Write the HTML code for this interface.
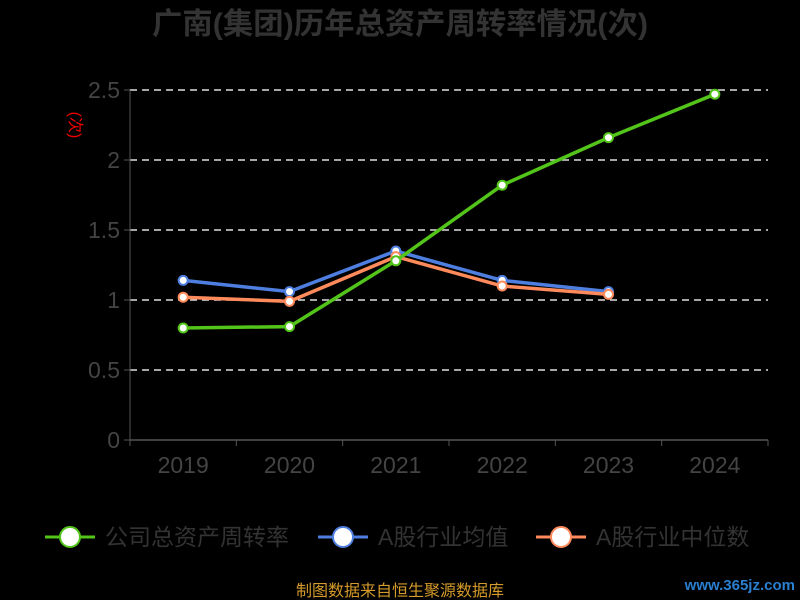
<!DOCTYPE html>
<html><head><meta charset="utf-8"><style>
body{margin:0;background:#000;}
svg{display:block;font-family:"Liberation Sans","Noto Sans CJK SC",sans-serif;}
</style></head><body>
<svg id="chart" width="800" height="600">
<text x="400" y="34" text-anchor="middle" font-size="30" font-weight="bold" fill="#333" textLength="496" lengthAdjust="spacingAndGlyphs">广南(集团)历年总资产周转率情况(次)</text>
<text x="70" y="125" text-anchor="middle" font-size="16" fill="#e00" transform="rotate(90 70 125)">(次)</text>
<g id="grid"></g><g id="axes"></g><g id="series"></g>
<g>
<g><line x1="45" y1="537" x2="95" y2="537" stroke="#52c41a" stroke-width="3"/><circle cx="70" cy="537" r="10" fill="#fff" stroke="#52c41a" stroke-width="2"/><text x="105" y="545" font-size="23" fill="#333">公司总资产周转率</text></g>
<g><line x1="318" y1="537" x2="368" y2="537" stroke="#4e7fe0" stroke-width="3"/><circle cx="343" cy="537" r="10" fill="#fff" stroke="#4e7fe0" stroke-width="2"/><text x="378" y="545" font-size="23" fill="#333">A股行业均值</text></g>
<g><line x1="536" y1="537" x2="586" y2="537" stroke="#ff8a5b" stroke-width="3"/><circle cx="561" cy="537" r="10" fill="#fff" stroke="#ff8a5b" stroke-width="2"/><text x="596" y="545" font-size="23" fill="#333">A股行业中位数</text></g>
</g>
<text x="400" y="596" text-anchor="middle" font-size="16" fill="#d49a2a">制图数据来自恒生聚源数据库</text>
<text x="795" y="590" text-anchor="end" font-size="15" font-weight="bold" fill="#2a7fd0">www.365jz.com</text>
</svg>
<script>
const categories=["2019","2020","2021","2022","2023","2024"];
const companyVals=[0.80,0.81,1.28,1.82,2.16,2.47];
const avgVals=[1.14,1.06,1.35,1.14,1.06];
const medianVals=[1.02,0.99,1.31,1.10,1.04];
const yTicks=[0,0.5,1,1.5,2,2.5];
const yTickLabels=["0","0.5","1","1.5","2","2.5"];
const NS="http://www.w3.org/2000/svg";
const x0=130,x1=768,y0=440,yTop=90,ymax=2.5;
const step=(x1-x0)/categories.length;
const xs=i=>x0+step*(i+0.5);
const ys=v=>y0-(v/ymax)*(y0-yTop);
function mk(tag,attrs,parent){const e=document.createElementNS(NS,tag);for(const k in attrs)e.setAttribute(k,attrs[k]);parent.appendChild(e);return e;}
const grid=document.getElementById('grid'),axes=document.getElementById('axes'),ser=document.getElementById('series');
yTicks.forEach((t,i)=>{
  if(t>0){const l=mk('line',{x1:x0,x2:x1,y1:ys(t),y2:ys(t),stroke:'#ddd','stroke-width':1.5,'stroke-dasharray':'7,5'},grid);
  
  }
  mk('line',{x1:x0-6,x2:x0,y1:ys(t),y2:ys(t),stroke:'#555'},axes);
  const tx=mk('text',{x:x0-10,y:ys(t)+8,'text-anchor':'end','font-size':23,fill:'#444'},axes);
  tx.textContent=yTickLabels[i];
  
  
});
mk('line',{x1:x0,x2:x0,y1:yTop,y2:y0,stroke:'#555'},axes);
mk('line',{x1:x0,x2:x1,y1:y0,y2:y0,stroke:'#555','stroke-width':1.5},axes);
for(let i=0;i<=categories.length;i++)mk('line',{x1:x0+step*i,x2:x0+step*i,y1:y0,y2:y0+6,stroke:'#555'},axes);
categories.forEach((c,i)=>{
  const tx=mk('text',{x:xs(i),y:y0+33,'text-anchor':'middle','font-size':23,fill:'#444'},axes);
  tx.textContent=c;
  
  
});
function series(vals,color,name){
  const g=mk('g',{},ser);
  
  
  mk('polyline',{points:vals.map((v,i)=>xs(i)+','+ys(v)).join(' '),fill:'none',stroke:color,'stroke-width':3.5},g);
  vals.forEach((v,i)=>{
    const c=mk('circle',{cx:xs(i),cy:ys(v),r:4.5,fill:'#fff',stroke:color,'stroke-width':2},g);
    
    
  });
}
series(avgVals,'#4e7fe0','average-series');
series(medianVals,'#ff8a5b','median-series');
series(companyVals,'#52c41a','company-series');
</script>
</body></html>
